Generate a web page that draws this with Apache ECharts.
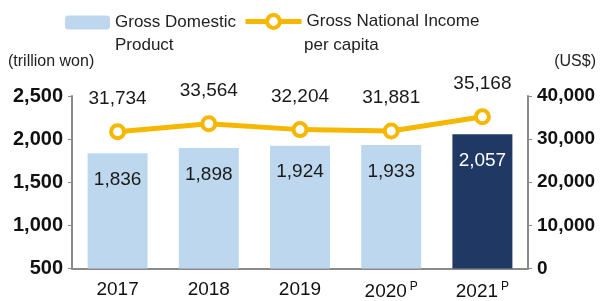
<!DOCTYPE html>
<html>
<head>
<meta charset="utf-8">
<script src="https://cdn.jsdelivr.net/npm/echarts@6/dist/echarts.min.js"></script>
<style>
  html, body { margin: 0; padding: 0; background: #fff; }
  #chart { width: 602px; height: 301px; }
</style>
</head>
<body>
<div id="chart"></div>
<script>
// data
const years = ["2017", "2018", "2019", "2020P", "2021P"];
const gdp = [1836, 1898, 1924, 1933, 2057];
const gni = [31734, 33564, 32204, 31881, 35168];
const leftTicks = [500, 2500, 500];   // min, max, interval
const rightTicks = [0, 40000, 10000];

const fontFamily = "Liberation Sans, Arial, sans-serif";
const fmt = (v) => v.toLocaleString("en-US");

const chart = echarts.init(document.getElementById("chart"));
chart.setOption({
  animation: false,
  textStyle: { fontFamily: fontFamily },
  // legend: first line via legend, second line as plain text beneath it
  legend: [
    {
      data: ["Gross Domestic"],
      left: 65,
      top: 14,
      padding: 0,
      itemWidth: 45,
      itemHeight: 14,
      textStyle: { fontSize: 17, color: "#222" },
    },
    {
      data: ["Gross National Income"],
      left: 243,
      top: 13,
      padding: 0,
      itemWidth: 56,
      itemHeight: 16,
      lineStyle: { width: 5 },
      itemStyle: { borderWidth: 4 },
      textStyle: { fontSize: 17, color: "#222" },
    },
  ],
  graphic: [
    { type: "text", left: 115, top: 37, style: { text: "Product", fontSize: 17, fill: "#222", fontFamily: fontFamily } },
    { type: "text", left: 304, top: 37, style: { text: "per capita", fontSize: 17, fill: "#222", fontFamily: fontFamily } },
  ],
  grid: { left: 72, right: 74, top: 96, bottom: 31 },
  xAxis: {
    type: "category",
    data: years,
    axisTick: { show: false },
    axisLine: { lineStyle: { color: "#8a8a8a", width: 2 } },
    axisLabel: {
      interval: 0,
      color: "#111",
      fontSize: 19,
      margin: 12,
      formatter: (v) => (v.endsWith("P") ? v.slice(0, -1) + "{p|P}" : v),
      rich: { p: { fontSize: 12, padding: [0, 0, 10, 3] } },
    },
  },
  yAxis: [
    {
      type: "value",
      name: "(trillion won)",
      nameLocation: "end",
      nameGap: 26,
      nameTextStyle: { fontSize: 16, color: "#222", align: "left", padding: [0, 0, 0, -64] },
      min: leftTicks[0],
      max: leftTicks[1],
      interval: leftTicks[2],
      axisLine: { show: true, lineStyle: { color: "#8a8a8a", width: 2 } },
      axisTick: { show: true, length: 4, lineStyle: { color: "#8a8a8a" } },
      splitLine: { show: false },
      axisLabel: { color: "#111", fontSize: 20, fontWeight: "bold", margin: 9, formatter: fmt },
    },
    {
      type: "value",
      name: "(US$)",
      nameLocation: "end",
      nameGap: 26,
      nameTextStyle: { fontSize: 16, color: "#222", align: "right", padding: [0, -68, 0, 0] },
      min: rightTicks[0],
      max: rightTicks[1],
      interval: rightTicks[2],
      axisLine: { show: true, lineStyle: { color: "#8a8a8a", width: 2 } },
      axisTick: { show: true, length: 4, lineStyle: { color: "#8a8a8a" } },
      splitLine: { show: false },
      axisLabel: { color: "#111", fontSize: 19, fontWeight: "bold", margin: 9, formatter: fmt },
    },
  ],
  series: [
    {
      name: "Gross Domestic",
      type: "bar",
      barWidth: 60,
      yAxisIndex: 0,
      itemStyle: { color: "#bdd7ee" },
      data: gdp.map((v, i) =>
        i === gdp.length - 1
          ? { value: v, itemStyle: { color: "#1f3864" }, label: { color: "#fff" } }
          : v
      ),
      label: {
        show: true,
        position: "insideTop",
        distance: 17,
        fontSize: 19,
        color: "#1a1a1a",
        formatter: (p) => fmt(p.value),
      },
    },
    {
      name: "Gross National Income",
      type: "line",
      yAxisIndex: 1,
      symbol: "circle",
      symbolSize: 13,
      lineStyle: { color: "#f5b700", width: 5 },
      itemStyle: { color: "#fff", borderColor: "#f5b700", borderWidth: 4 },
      label: {
        show: true,
        position: "top",
        distance: 15,
        fontSize: 19,
        color: "#1a1a1a",
        formatter: (p) => fmt(p.value),
      },
      data: gni,
    },
  ],
});
</script>
</body>
</html>
